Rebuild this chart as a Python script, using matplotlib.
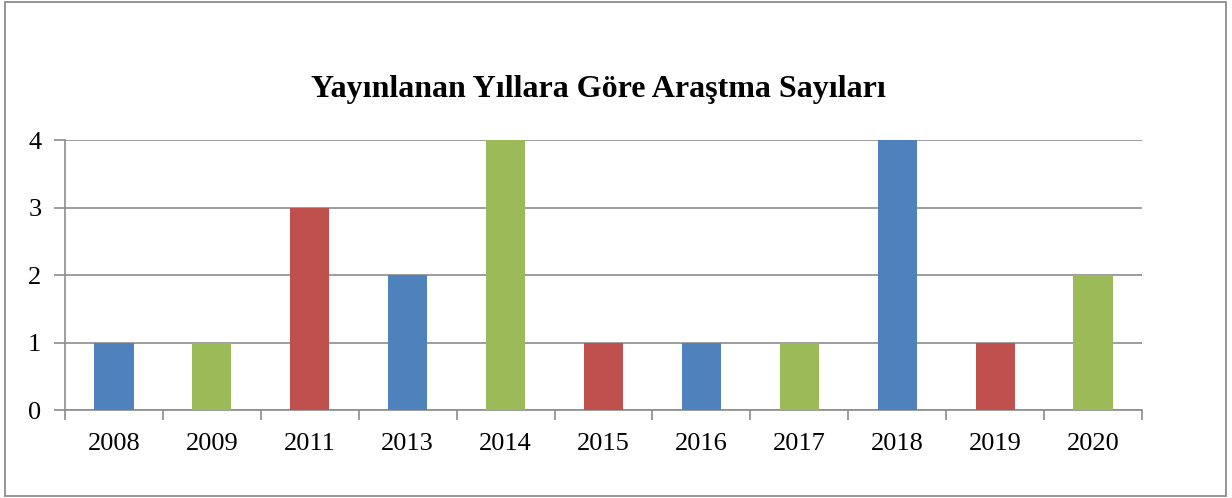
import matplotlib.pyplot as plt
from matplotlib.patches import Rectangle

years = ['2008', '2009', '2011', '2013', '2014', '2015', '2016', '2017', '2018', '2019', '2020']
counts = [1, 1, 3, 2, 4, 1, 1, 1, 4, 1, 2]
bar_colors = ['#4F81BD', '#9BBB59', '#C0504D', '#4F81BD', '#9BBB59', '#C0504D',
              '#4F81BD', '#9BBB59', '#4F81BD', '#C0504D', '#9BBB59']

plt.rcParams['font.family'] = ['Liberation Serif', 'DejaVu Serif']

W, H = 1232, 498
fig = plt.figure(figsize=(W / 100, H / 100), dpi=100)
fig.patch.set_facecolor('white')

# outer chart frame
fig.add_artist(Rectangle((5 / W, 2 / H), 1221 / W, 494 / H, transform=fig.transFigure,
                         fill=False, edgecolor='#8c8c8c', linewidth=1.3))

ax = fig.add_axes([65 / W, (H - 410) / H, (1142 - 65) / W, (410 - 140) / H])
x = range(len(years))
ax.bar(x, counts, width=0.4, color=bar_colors, zorder=3)

ax.set_xlim(-0.5, len(years) - 0.5)
ax.set_ylim(0, 4)
ax.set_yticks([0, 1, 2, 3, 4])
ax.set_xticks(list(x))
ax.set_xticklabels(years)
ax.set_xticks([i - 0.5 for i in range(len(years) + 1)], minor=True)
ax.tick_params(axis='x', which='major', length=0, pad=16.5, labelsize=19)
ax.tick_params(axis='x', which='minor', length=7, color='#8c8c8c', width=1.2)
ax.tick_params(axis='y', length=8, color='#8c8c8c', width=1.2, pad=9, labelsize=19)
ax.grid(axis='y', color='#8c8c8c', linewidth=1.2, zorder=0)
for s in ['top', 'right']:
    ax.spines[s].set_visible(False)
for s in ['left', 'bottom']:
    ax.spines[s].set_color('#8c8c8c')
    ax.spines[s].set_linewidth(1.2)

fig.text(598 / W, (H - 89) / H, 'Yayınlanan Yıllara Göre Araştma Sayıları',
         ha='center', va='center', fontsize=23, fontweight='bold')

fig.savefig('out.png', dpi=100)
